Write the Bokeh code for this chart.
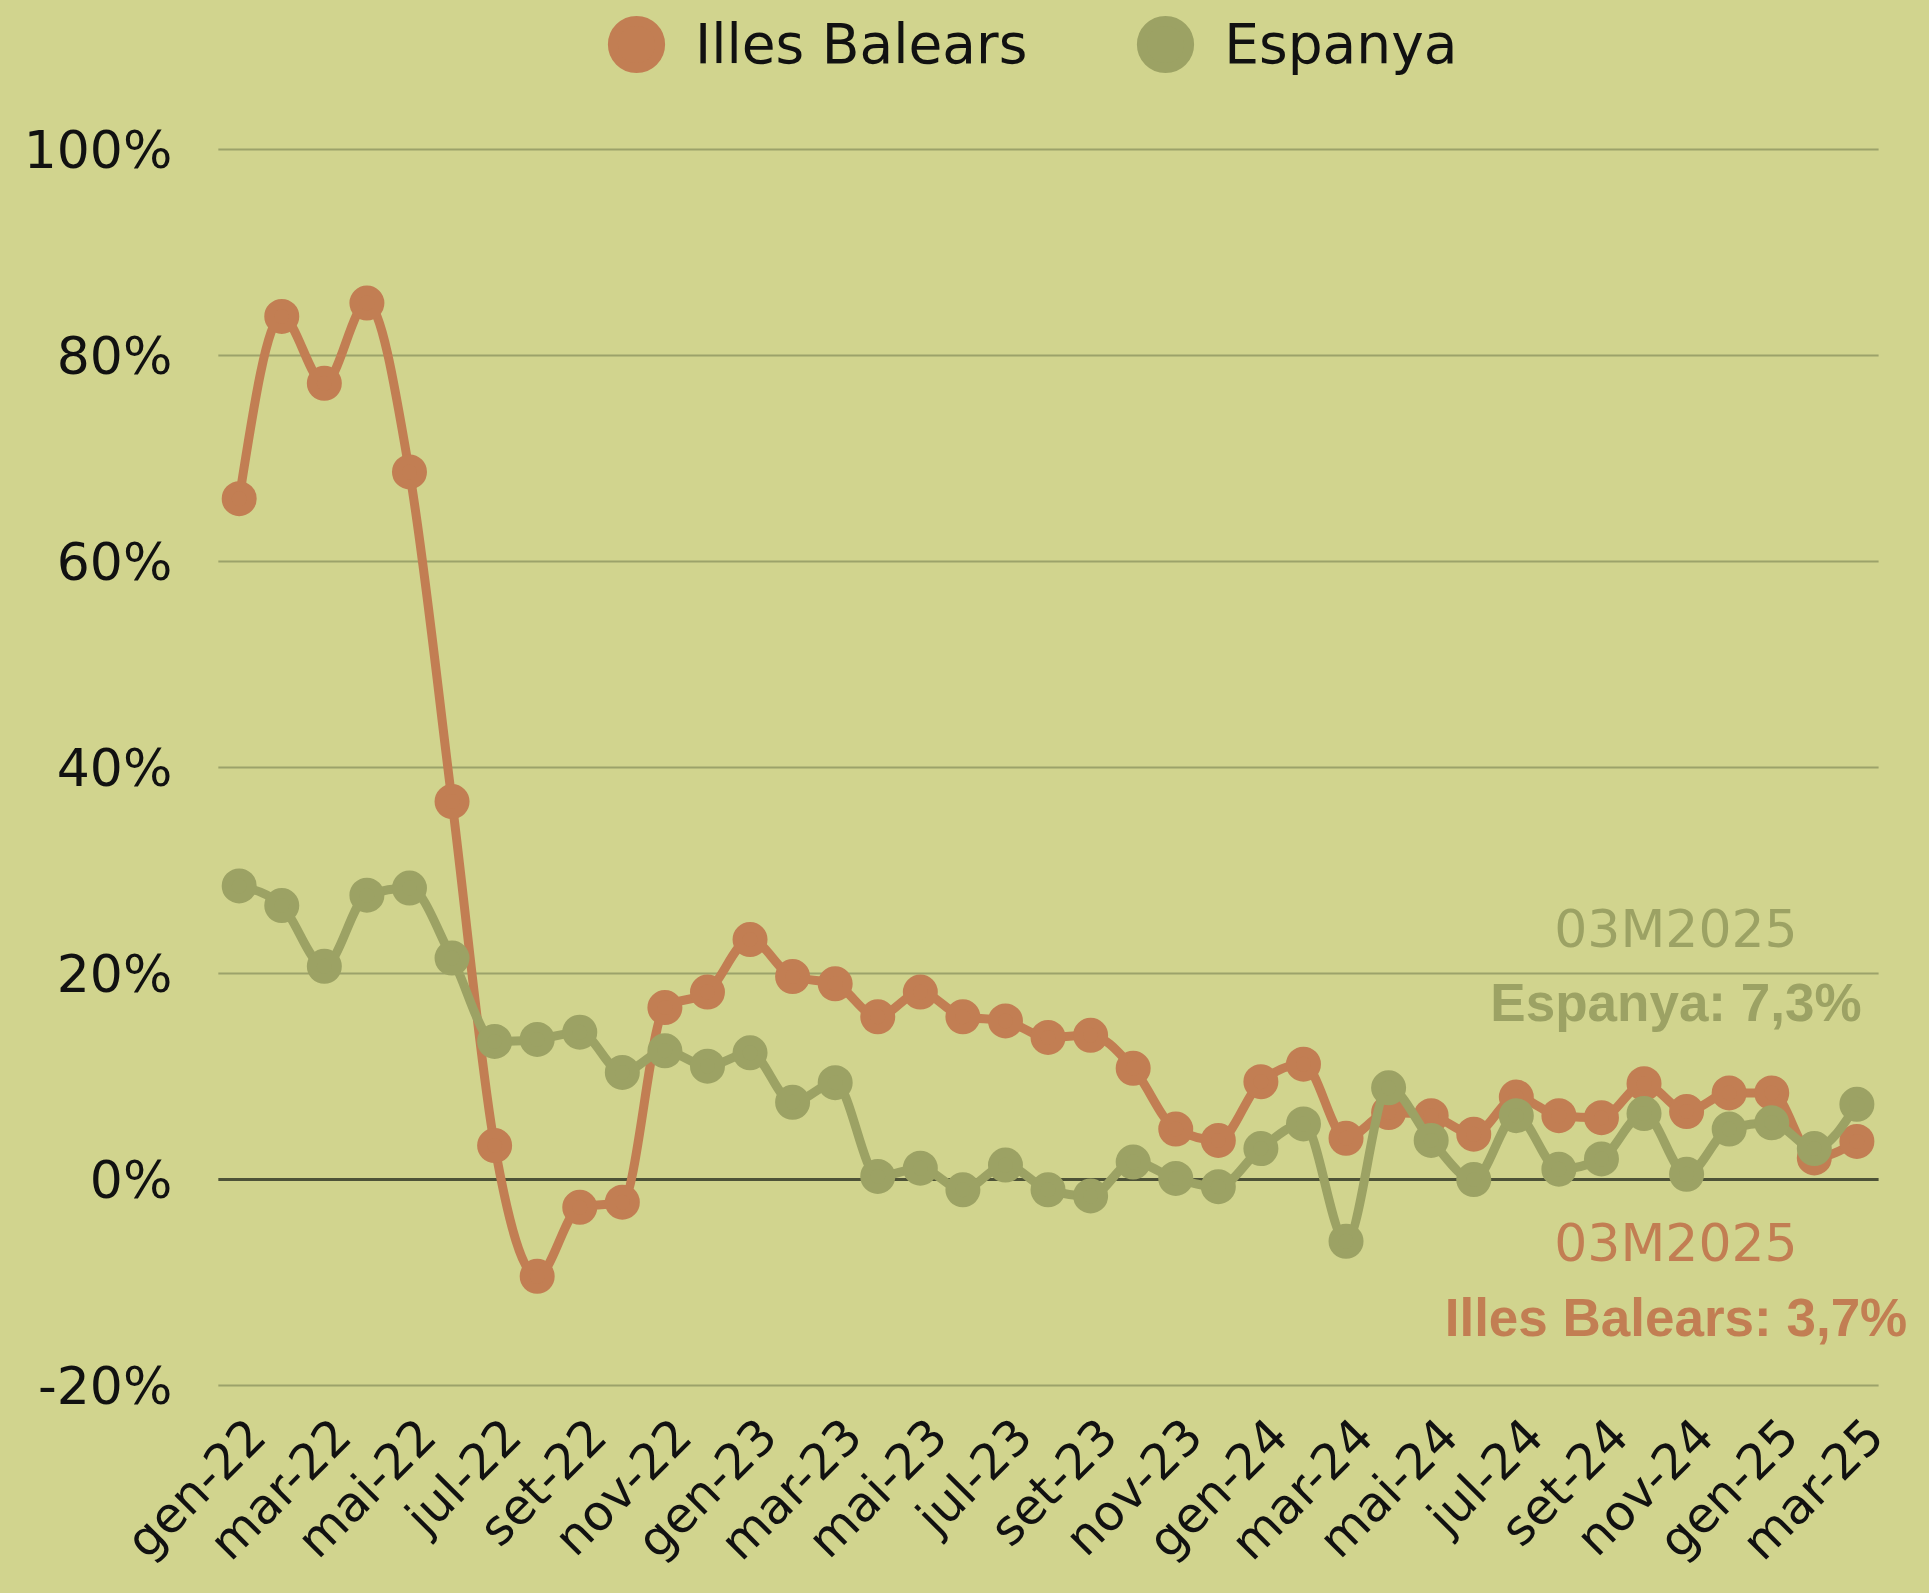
import numpy as np
from bokeh.plotting import figure
from bokeh.models import Label, Legend, LegendItem, ColumnDataSource
from bokeh.core.properties import value
from bokeh.embed import file_html
from bokeh.resources import INLINE

# ---------------- data ----------------
months = ["gen-22", "feb-22", "mar-22", "abr-22", "mai-22", "jun-22", "jul-22", "ago-22", "set-22", "oct-22", "nov-22", "des-22",
          "gen-23", "feb-23", "mar-23", "abr-23", "mai-23", "jun-23", "jul-23", "ago-23", "set-23", "oct-23", "nov-23", "des-23",
          "gen-24", "feb-24", "mar-24", "abr-24", "mai-24", "jun-24", "jul-24", "ago-24", "set-24", "oct-24", "nov-24", "des-24",
          "gen-25", "feb-25", "mar-25"]
illes_balears = [66.1, 83.8, 77.3, 85.1, 68.7, 36.7, 3.3, -9.4, -2.7, -2.2, 16.7, 18.2,
                 23.3, 19.7, 19.0, 15.8, 18.2, 15.8, 15.4, 13.8, 14.0, 10.8, 4.9, 3.8,
                 9.5, 11.2, 4.0, 6.5, 6.2, 4.4, 8.0, 6.2, 6.0, 9.3, 6.6, 8.4,
                 8.4, 2.1, 3.7]
espanya = [28.5, 26.6, 20.7, 27.6, 28.3, 21.5, 13.4, 13.6, 14.3, 10.4, 12.5, 11.0,
           12.3, 7.5, 9.4, 0.3, 1.1, -1.0, 1.4, -1.0, -1.6, 1.7, 0.1, -0.7,
           3.0, 5.4, -6.0, 8.9, 3.8, 0.0, 6.2, 1.0, 2.0, 6.4, 0.5, 4.9,
           5.5, 3.0, 7.3]
series_names = ["Illes Balears", "Espanya"]
y_ticks = [-20, 0, 20, 40, 60, 80, 100]
y_tick_labels = ["-20%", "0%", "20%", "40%", "60%", "80%", "100%"]
x_tick_step = 2
last_period = "03M2025"
last_labels = ["Illes Balears: 3,7%", "Espanya: 7,3%"]

# ---------------- style ----------------
BG = "#d1d48e"
ORANGE = "#c27e53"
GREEN = "#9ca264"
GRID = "#9ca26a"
ZERO = "#4d5237"
FONT = "DejaVu Sans"
BOLD_FONT = "Liberation Sans"
TXT = "#111111"

x = list(range(len(months)))
X_START, X_END = -0.49, len(months) - 1 + 0.51


def monotone_bezier(xs, ys):
    """Control points of a monotone cubic (d3 curveMonotoneX style) through the data."""
    xs = np.asarray(xs, float)
    ys = np.asarray(ys, float)
    n = len(xs)
    h = np.diff(xs)
    s = np.diff(ys) / h
    t = np.zeros(n)
    for i in range(1, n - 1):
        s0, s1 = s[i - 1], s[i]
        p_ = (s0 * h[i] + s1 * h[i - 1]) / (h[i - 1] + h[i])
        t[i] = (np.sign(s0) + np.sign(s1)) * min(abs(s0), abs(s1), 0.5 * abs(p_))
    t[0] = (3 * s[0] - t[1]) / 2
    t[-1] = (3 * s[-1] - t[-2]) / 2
    d = dict(x0=xs[:-1], y0=ys[:-1], x1=xs[1:], y1=ys[1:],
             cx0=xs[:-1] + h / 3, cy0=ys[:-1] + t[:-1] * h / 3,
             cx1=xs[1:] - h / 3, cy1=ys[1:] - t[1:] * h / 3)
    return ColumnDataSource(d)


p = figure(width=1913, height=1577,
           x_range=(-5.607, 39.33), y_range=(-38.64, 114.47),
           output_backend="svg", toolbar_location=None,
           min_border_left=0, min_border_right=0, min_border_top=0, min_border_bottom=0)
p.background_fill_color = BG
p.border_fill_color = BG
p.outline_line_color = None
p.xgrid.visible = False
p.ygrid.visible = False
p.xaxis.visible = False
p.yaxis.visible = False

# horizontal grid lines (from half a step before the first month to half a step after the last)
grid_src = ColumnDataSource(dict(x0=[X_START] * len(y_ticks), x1=[X_END] * len(y_ticks),
                                 y=y_ticks, color=[ZERO if v == 0 else GRID for v in y_ticks],
                                 width=[3 if v == 0 else 2 for v in y_ticks]))
p.segment(x0="x0", x1="x1", y0="y", y1="y", line_color="color", line_width="width", source=grid_src)

# y tick labels, right-aligned left of the grid
p.text(x=[X_START] * len(y_ticks), y=y_ticks, text=y_tick_labels, x_offset=-46,
       text_align="right", text_baseline="middle",
       text_font=value(FONT), text_font_size="52px", text_color=TXT)

# x tick labels (rotated 45°, ending just right of each tick, below the -20% line)
tick_idx = x[::x_tick_step]
p.text(x=tick_idx, y=[y_ticks[0]] * len(tick_idx), text=[months[i] for i in tick_idx],
       angle=np.pi / 4, x_offset=18, y_offset=42,
       text_align="right", text_baseline="middle",
       text_font=value(FONT), text_font_size="49px", text_color=TXT)

# series
renderers = []
for vals, col in ((illes_balears, ORANGE), (espanya, GREEN)):
    src = monotone_bezier(x, vals)
    p.bezier(x0="x0", y0="y0", x1="x1", y1="y1", cx0="cx0", cy0="cy0", cx1="cx1", cy1="cy1",
             source=src, line_color=col, line_width=9)
    r = p.scatter(x, vals, size=25, fill_color=col, line_color=col, line_width=10)
    renderers.append(r)

legend = Legend(items=[LegendItem(label=series_names[0], renderers=[renderers[0]]),
                       LegendItem(label=series_names[1], renderers=[renderers[1]])],
                orientation="horizontal", location=(577, 1474),
                glyph_width=118, glyph_height=118, label_standoff=0, spacing=79,
                padding=0, margin=0, border_line_color=None, background_fill_alpha=0,
                label_text_font=FONT, label_text_font_size="55px", label_text_color=TXT)
p.add_layout(legend, "center")

# last-value annotations
for txt, yv, col, font, style, size in ((last_period, 24.37, GREEN, FONT, "normal", "52px"),
                                        (last_labels[1], 17.18, GREEN, BOLD_FONT, "bold", "53px"),
                                        (last_period, -6.12, ORANGE, FONT, "normal", "52px"),
                                        (last_labels[0], -13.40, ORANGE, BOLD_FONT, "bold", "53px")):
    p.add_layout(Label(x=33.75, y=yv, text=txt, text_align="center", text_baseline="alphabetic",
                       text_font=font, text_font_size=size, text_font_style=style, text_color=col))

html = file_html(p, INLINE)
html = html.replace("</head>", "<style>html, body { background-color: %s; }</style>\n</head>" % BG, 1)
open("out.html", "w").write(html)
